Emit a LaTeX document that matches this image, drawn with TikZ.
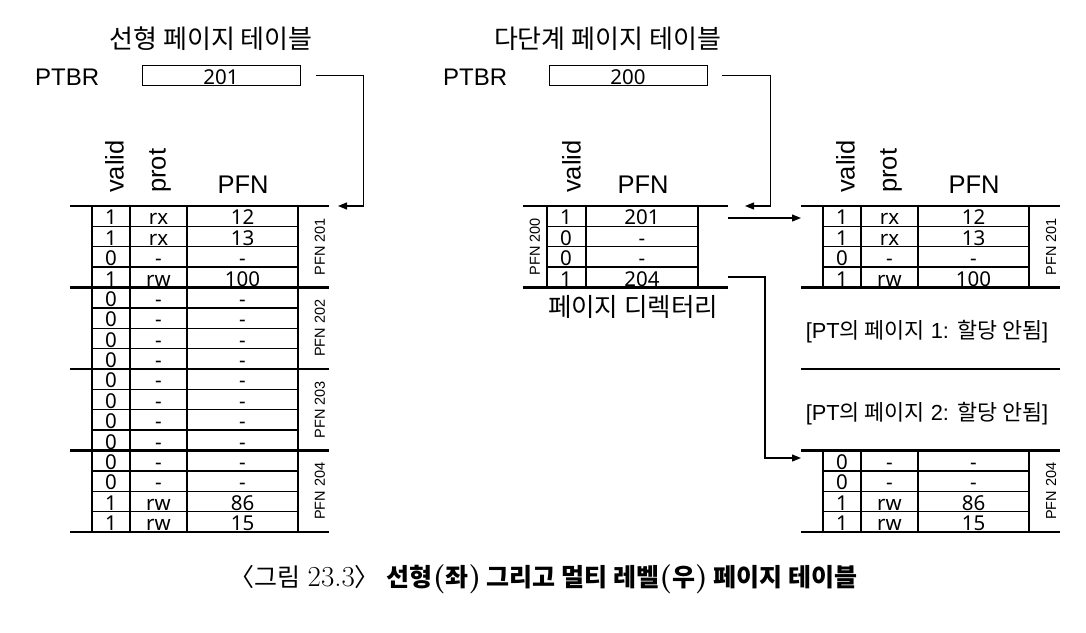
\documentclass[tikz,border=0pt]{standalone}
\usepackage{fontspec}
\setmainfont{Liberation Sans}
\newfontfamily\cjk{Noto Sans CJK KR}
\newfontfamily\cellfont{Noto Sans}
\newfontfamily\lmr{Latin Modern Roman}
\usetikzlibrary{arrows.meta}
\newcommand\fs[1]{\fontsize{#1}{#1}\selectfont}
\newcommand\capl[1]{{\lmr\fs{29}#1}}
\begin{document}
\begin{tikzpicture}[x=1pt,y=-1pt,
  sepline/.style={line width=2.8pt},
  rowline/.style={line width=1.4pt},
  colline/.style={line width=1.4pt},
  conn/.style={line width=1.2pt},
  arr/.style={conn,-{Triangle[length=9pt,width=7pt]}},
  cell/.style={anchor=base,inner sep=0pt,font=\cellfont\fs{20.5}},
  hdr/.style={inner sep=0pt,font=\fs{25.5}},
  vhdr/.style={hdr,rotate=90,anchor=base west},
  grp/.style={inner sep=0pt,rotate=90,font=\fs{14.5}},
  title/.style={anchor=base,inner sep=0pt,font=\cjk\fs{26}},
  ptbr/.style={anchor=base west,inner sep=0pt,font=\fs{24}},
  regbox/.style={draw,line width=1.1pt,minimum height=20.7pt,inner sep=0pt},
  note/.style={anchor=base,inner sep=0pt,font=\fs{21.8}}
  ]
\useasboundingbox[fill=white] (0,0) rectangle (1086,632);
\def\H{20.375}
% titles
\node[title] (tl) at (211,48) {선형 페이지 테이블};
\node[title] (tr) at (607.5,48) {다단계 페이지 테이블};
% PTBR registers
\node[ptbr] (pl) at (35,85) {PTBR};
\node[ptbr] (pr) at (443,85) {PTBR};
\node[regbox,minimum width=157.3pt] (b1) at (221.4,75.4) {};
\node[regbox,minimum width=158.4pt] (b2) at (628.5,75.4) {};
\node[cell] (b1t) at (221,84.5) {201};
\node[cell] (b2t) at (628,84.5) {200};
% ---------- linear page table ----------
\foreach \k in {0,4,8,12,16} \draw[sepline] (70,{206+\k*\H}) -- (329,{206+\k*\H});
\foreach \k in {1,2,3,5,6,7,9,10,11,13,14,15} \draw[rowline] (92,{206+\k*\H}) -- (298,{206+\k*\H});
\foreach \x in {92,130,187,298} \draw[colline] (\x,206) -- (\x,532);
\foreach \v/\p/\n [count=\r from 1] in {1/rx/12,1/rx/13,0/-/-,1/rw/100,0/-/-,0/-/-,0/-/-,0/-/-,0/-/-,0/-/-,0/-/-,0/-/-,0/-/-,0/-/-,1/rw/86,1/rw/15}{
  \node[cell] (La\r) at (111,{206+\r*\H-1.5}) {\v};
  \node[cell] (Lb\r) at (158.5,{206+\r*\H-1.5}) {\p};
  \node[cell] (Lc\r) at (242.5,{206+\r*\H-1.5}) {\n};
}
\foreach \g/\t in {0/201,1/202,2/203,3/204}
  \node[grp] (Lg\t) at (320,{206+(4*\g+2)*\H}) {PFN \t};
\node[vhdr] (Lhv) at (123.5,193) {valid};
\node[vhdr] (Lhp) at (165.5,193) {prot};
\node[hdr,anchor=base] (Lhf) at (243,193) {PFN};
% ---------- page directory ----------
\foreach \k in {0,4} \draw[sepline] (523,{206+\k*\H}) -- (728,{206+\k*\H});
\foreach \k in {1,2,3} \draw[rowline] (547,{206+\k*\H}) -- (698,{206+\k*\H});
\foreach \x in {547,586,698} \draw[colline] (\x,206) -- (\x,{206+4*\H});
\foreach \v/\n [count=\r from 1] in {1/201,0/-,0/-,1/204}{
  \node[cell] (Da\r) at (566,{206+\r*\H-1.5}) {\v};
  \node[cell] (Db\r) at (642,{206+\r*\H-1.5}) {\n};
}
\node[grp] (Dg) at (535,{206+2*\H}) {PFN 200};
\node[vhdr] (Dhv) at (580.5,193) {valid};
\node[hdr,anchor=base] (Dhf) at (643,193) {PFN};
\node[anchor=base,inner sep=0pt,font=\cjk\fs{25.5}] (dirl) at (633,316) {페이지 디렉터리};
% ---------- multi-level page tables ----------
\foreach \k in {0,4,8,12,16} \draw[sepline] (801,{206+\k*\H}) -- (1060,{206+\k*\H});
\foreach \k in {1,2,3,13,14,15} \draw[rowline] (823,{206+\k*\H}) -- (1029,{206+\k*\H});
\foreach \x in {823,861,918,1029}{
  \draw[colline] (\x,206) -- (\x,{206+4*\H});
  \draw[colline] (\x,{206+12*\H}) -- (\x,532);
}
\foreach \v/\p/\n/\r in {1/rx/12/1,1/rx/13/2,0/-/-/3,1/rw/100/4,0/-/-/13,0/-/-/14,1/rw/86/15,1/rw/15/16}{
  \node[cell] (Ra\r) at (842,{206+\r*\H-1.5}) {\v};
  \node[cell] (Rb\r) at (889.5,{206+\r*\H-1.5}) {\p};
  \node[cell] (Rc\r) at (973.5,{206+\r*\H-1.5}) {\n};
}
\node[grp] (Rg201) at (1051,{206+2*\H}) {PFN 201};
\node[grp] (Rg204) at (1051,{206+14*\H}) {PFN 204};
\node[vhdr] (Rhv) at (854.5,193) {valid};
\node[vhdr] (Rhp) at (896.5,193) {prot};
\node[hdr,anchor=base] (Rhf) at (974,193) {PFN};
\node[note] (n1) at (927,338.5) {[PT{\cjk 의 페이지} 1: {\cjk 할당 안됨}]};
\node[note] (n2) at (927,420) {[PT{\cjk 의 페이지} 2: {\cjk 할당 안됨}]};
% ---------- connectors ----------
\coordinate (t1in) at (338,206);
\coordinate (t2in) at (745,206);
\coordinate (d1) at (728,218);
\coordinate (p1) at (801,218);
\coordinate (d4) at (728,277);
\coordinate (p4) at (801,458);
\draw[arr] ([xshift=15pt]b1.east) -- ++(48,0) |- (t1in);
\draw[arr] ([xshift=14pt]b2.east) -- ++(48,0) |- (t2in);
\draw[arr] (d1) -- (p1);
\draw[arr] (d4) -- ++(37,0) |- (p4);
% ---------- caption ----------
\node[anchor=base,inner sep=0pt,font=\fs{25}] (cap) at (543.5,586)
  {{\cjk 〈그림} \capl{23.3}{\cjk 〉} {\bfseries\cjk 선형\capl{(}좌\capl{)} 그리고 멀티 레벨\capl{(}우\capl{)} 페이지 테이블}};
\end{tikzpicture}
\end{document}
